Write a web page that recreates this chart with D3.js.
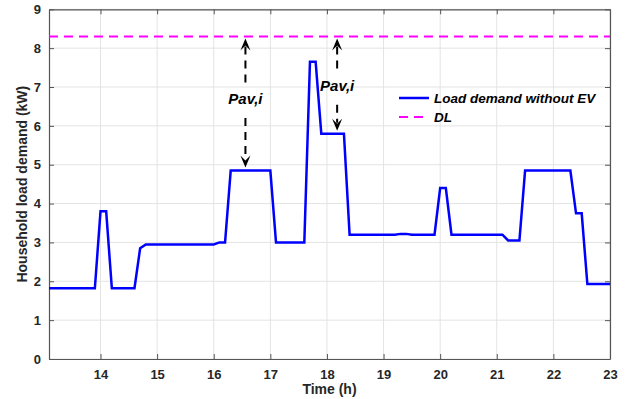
<!DOCTYPE html>
<html><head><meta charset="utf-8">
<script src="https://cdn.jsdelivr.net/npm/d3@7/dist/d3.min.js"></script>
<style>
html,body{margin:0;padding:0;background:#fff;}
svg{display:block;font-family:Arial,"Liberation Sans",sans-serif;}
</style></head>
<body>
<svg id="c" width="630" height="399"></svg>
<script>
const times = [13.09, 13.9, 14.0, 14.1, 14.2, 14.6, 14.7, 14.8, 16.0, 16.1, 16.2, 16.3, 17.0, 17.1, 17.6, 17.7, 17.8, 17.9, 18.3, 18.4, 19.2, 19.3, 19.4, 19.5, 19.9, 20.0, 20.1, 20.2, 21.1, 21.2, 21.4, 21.5, 22.3, 22.4, 22.5, 22.6, 23.0];
const loadDemand = [1.82, 1.82, 3.8, 3.8, 1.82, 1.82, 2.85, 2.95, 2.95, 3.0, 3.0, 4.85, 4.85, 3.0, 3.0, 7.65, 7.65, 5.8, 5.8, 3.2, 3.2, 3.22, 3.22, 3.2, 3.2, 4.4, 4.4, 3.2, 3.2, 3.05, 3.05, 4.85, 4.85, 3.75, 3.75, 1.93, 1.93];
const dlLevel = 8.3;
const xDomain = [13.09, 23];
const xTicks = [14, 15, 16, 17, 18, 19, 20, 21, 22, 23];
const yTicks = [0, 1, 2, 3, 4, 5, 6, 7, 8, 9];
const annotTimes = [16.56, 18.18];
const annotBottoms = [4.85, 5.8];
const annotLabelValues = [6.69, 7.03];
const annotText = "Pav,i";
const legendLabels = ["Load demand without EV", "DL"];

const svg = d3.select("#c");
const L = 49, R = 610, T = 9.3, B = 359;
const x = d3.scaleLinear().domain(xDomain).range([L, R]);
const y = d3.scaleLinear().domain([0, 9]).range([B, T]);
const textCol = "#262626", axisCol = "#555";

// grid
svg.append("g").selectAll("line").data(xTicks).join("line")
  .attr("x1", d => x(d)).attr("x2", d => x(d)).attr("y1", T).attr("y2", B)
  .attr("stroke", "#e3e3e3").attr("stroke-width", 1);
svg.append("g").selectAll("line").data(yTicks).join("line")
  .attr("x1", L).attr("x2", R).attr("y1", d => y(d)).attr("y2", d => y(d))
  .attr("stroke", "#e3e3e3").attr("stroke-width", 1);

// axes
const fmt = d3.format("d");
const gx = svg.append("g").attr("transform", `translate(0,${B})`)
  .call(d3.axisBottom(x).tickValues(xTicks).tickFormat(fmt).tickSizeInner(-5).tickSizeOuter(0).tickPadding(11));
const gy = svg.append("g").attr("transform", `translate(${L},0)`)
  .call(d3.axisLeft(y).tickValues(yTicks).tickFormat(fmt).tickSizeInner(-5).tickSizeOuter(0).tickPadding(8));
const gxt = svg.append("g").attr("transform", `translate(0,${T})`)
  .call(d3.axisTop(x).tickValues(xTicks).tickFormat("").tickSizeInner(-5).tickSizeOuter(0));
const gyr = svg.append("g").attr("transform", `translate(${R},0)`)
  .call(d3.axisRight(y).tickValues(yTicks).tickFormat("").tickSizeInner(-5).tickSizeOuter(0));
[gx, gy, gxt, gyr].forEach(g => {
  g.selectAll("path").attr("stroke", axisCol).attr("stroke-width", 1.2);
  g.selectAll("line").attr("stroke", axisCol).attr("stroke-width", 1);
  g.selectAll("text").attr("fill", textCol).attr("font-size", 13).attr("font-weight", "bold").attr("font-family", "Arial, 'Liberation Sans', sans-serif");
});

// DL line
svg.append("line").attr("x1", L).attr("x2", R).attr("y1", y(dlLevel)).attr("y2", y(dlLevel))
  .attr("stroke", "#ff00ff").attr("stroke-width", 2).attr("stroke-dasharray", "9,6");

// load line
const pts = times.map((t, i) => [t, loadDemand[i]]);
svg.append("path").datum(pts)
  .attr("d", d3.line().x(d => x(d[0])).y(d => y(d[1])))
  .attr("fill", "none").attr("stroke", "#0000ff").attr("stroke-width", 2.5).attr("stroke-linejoin", "miter");

// annotations
function arrowHead(cx, tipY, dir) {
  const h = 12, w = 5, notch = 7;
  return `M${cx},${tipY} L${cx - w},${tipY - dir * h} L${cx},${tipY - dir * notch} L${cx + w},${tipY - dir * h} Z`;
}
annotTimes.forEach((t, i) => {
  const cx = x(t);
  const topY = y(dlLevel) + 2;
  const botY = y(annotBottoms[i]) - 3;
  const ly = y(annotLabelValues[i]);
  svg.append("line").attr("x1", cx).attr("x2", cx).attr("y1", topY + 8).attr("y2", ly - 15)
    .attr("stroke", "#000").attr("stroke-width", 2).attr("stroke-dasharray", "8,6");
  svg.append("line").attr("x1", cx).attr("x2", cx).attr("y1", ly + 19).attr("y2", botY - 8)
    .attr("stroke", "#000").attr("stroke-width", 2).attr("stroke-dasharray", "8,6");
  svg.append("path").attr("d", arrowHead(cx, topY, -1)).attr("fill", "#000");
  svg.append("path").attr("d", arrowHead(cx, botY, 1)).attr("fill", "#000");
  svg.append("text").attr("x", cx).attr("y", ly + 5).attr("text-anchor", "middle")
    .attr("font-size", 15).attr("font-weight", "bold").attr("font-style", "italic").attr("fill", "#000")
    .text(annotText);
});

// legend
const lg = svg.append("g");
const legY = [98, 117];
lg.append("line").attr("x1", 399).attr("x2", 429).attr("y1", legY[0]).attr("y2", legY[0])
  .attr("stroke", "#0000ff").attr("stroke-width", 2.5);
lg.append("line").attr("x1", 399).attr("x2", 429).attr("y1", legY[1]).attr("y2", legY[1])
  .attr("stroke", "#ff00ff").attr("stroke-width", 2).attr("stroke-dasharray", "9,6");
legendLabels.forEach((s, i) => {
  lg.append("text").attr("x", 434).attr("y", legY[i] + 5).attr("font-size", 13.5)
    .attr("font-weight", "bold").attr("font-style", "italic").attr("fill", "#000").text(s);
});

// axis titles
svg.append("text").attr("x", (L + R) / 2).attr("y", 394).attr("text-anchor", "middle")
  .attr("font-size", 14).attr("font-weight", "bold").attr("fill", textCol).text("Time (h)");
svg.append("text").attr("transform", `translate(27,${(T + B) / 2}) rotate(-90)`).attr("text-anchor", "middle")
  .attr("font-size", 14).attr("font-weight", "bold").attr("fill", textCol).text("Household load demand (kW)");
</script>
</body></html>
